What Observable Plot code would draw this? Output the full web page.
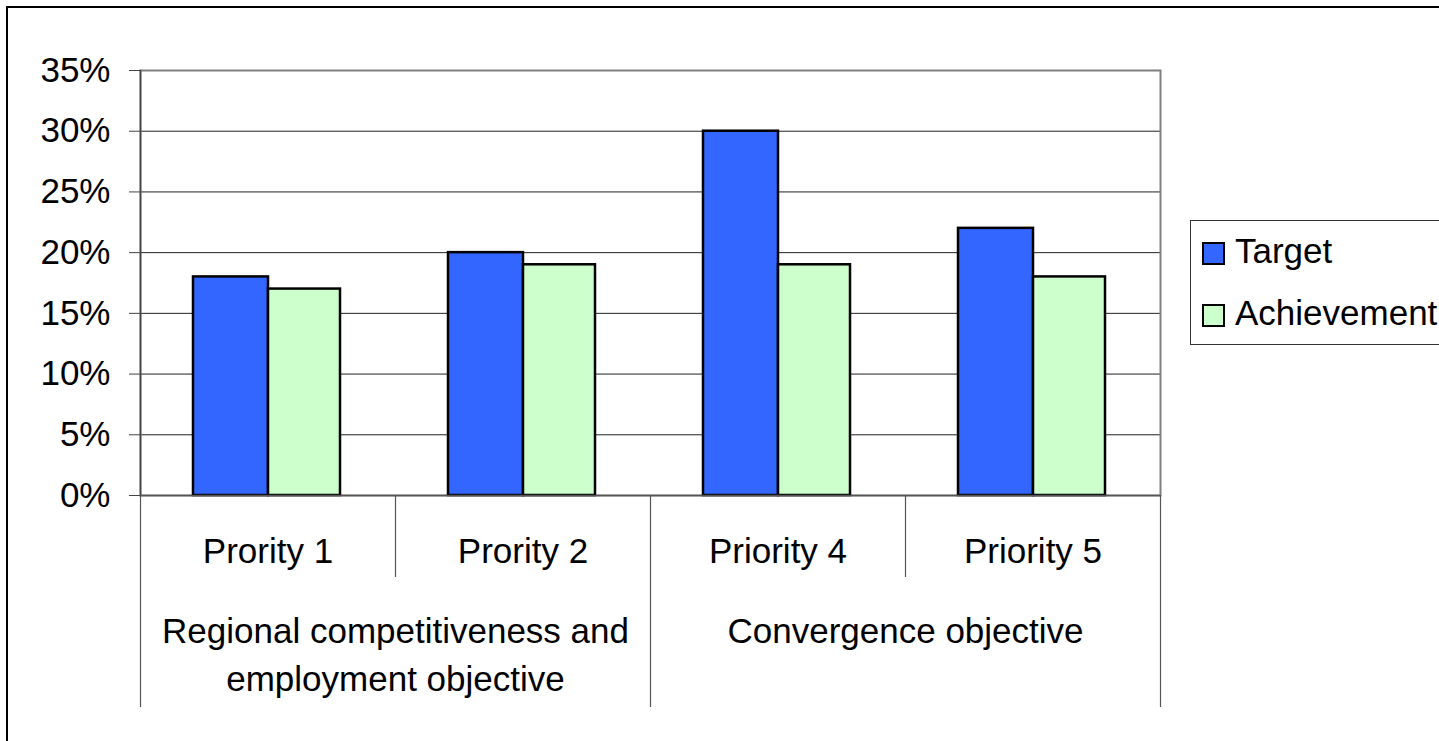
<!DOCTYPE html>
<html><head><meta charset="utf-8">
<script src="https://cdn.jsdelivr.net/npm/d3@7"></script>
<script src="https://cdn.jsdelivr.net/npm/@observablehq/plot@0.6"></script>
<style>
html,body{margin:0;padding:0;background:#fff;}
#chart svg{display:block;}
</style>
</head><body><div id="chart"></div>
<script>
// ---- data ----
const priorities = ["Prority 1", "Prority 2", "Priority 4", "Priority 5"];
const groups = ["Regional competitiveness and\nemployment objective", "Convergence objective"];
const groupMembers = [["Prority 1", "Prority 2"], ["Priority 4", "Priority 5"]];
const series = ["Target", "Achievement"];
const targetValues = [0.18, 0.20, 0.30, 0.22];
const achievementValues = [0.17, 0.19, 0.19, 0.18];
const yTicks = [0, 0.05, 0.10, 0.15, 0.20, 0.25, 0.30, 0.35];
const colors = ["#3366FF", "#CCFFCC"];

const data = priorities.map((p, i) => ({priority: p, target: targetValues[i], achievement: achievementValues[i]}));
const groupData = groups.map((g, i) => ({label: g, first: groupMembers[i][0], n: groupMembers[i].length}));

const W = 1439, H = 741, mL = 140, mR = 279, mT = 70, mB = 246;
const step = (W - mL - mR) / priorities.length;
const font = "'Liberation Sans', Arial, Helvetica, sans-serif";

const shortSeps = groupMembers.flatMap(m => m.slice(1));
const longSeps = groupMembers.map(m => m[0]);
const lastPriority = priorities[priorities.length - 1];

const chart = Plot.plot({
  width: W, height: H,
  marginLeft: mL, marginRight: mR, marginTop: mT, marginBottom: mB,
  style: {fontFamily: font, fontSize: "35px", color: "#000", background: "#fff"},
  x: {type: "band", domain: priorities, padding: 0, axis: null},
  y: {domain: [0, 0.35], axis: null},
  marks: [
    Plot.gridY(yTicks, {stroke: "#222", strokeOpacity: 1, strokeWidth: 1}),
    Plot.frame({stroke: "#808080", strokeWidth: 2}),
    Plot.frame({anchor: "left", stroke: "#444", strokeWidth: 1.5}),
    Plot.axisY(yTicks, {tickFormat: d3.format(".0%"), tickSize: 11, tickPadding: 19, fontSize: 35, stroke: "#444", label: null}),
    Plot.barY(data, {x: "priority", y: "target", fill: colors[0], stroke: "#000", strokeWidth: 2.5, insetLeft: 53, insetRight: 127}),
    Plot.barY(data, {x: "priority", y: "achievement", fill: colors[1], stroke: "#000", strokeWidth: 2.5, insetLeft: 128, insetRight: 55}),
    Plot.ruleY([0], {stroke: "#555", strokeWidth: 1.5}),
    Plot.ruleX(shortSeps, {x: d => d, y1: 0, y2: 0, dx: -step / 2, insetBottom: -82, stroke: "#555", strokeWidth: 1.2}),
    Plot.ruleX(longSeps, {x: d => d, y1: 0, y2: 0, dx: -step / 2, insetBottom: -212, stroke: "#555", strokeWidth: 1.2}),
    Plot.ruleX([lastPriority], {x: d => d, y1: 0, y2: 0, dx: step / 2, insetBottom: -212, stroke: "#555", strokeWidth: 1.2}),
    Plot.text(priorities, {x: d => d, frameAnchor: "bottom", lineAnchor: "bottom", dy: 67, fontSize: 35, fill: "#000"}),
    Plot.text(groupData, {x: "first", text: "label", dx: step * (groupMembers[0].length - 1) / 2, frameAnchor: "bottom", lineAnchor: "top", lineHeight: 48 / 35, dy: 113, fontSize: 35, fill: "#000"})
  ]
});

document.getElementById("chart").appendChild(chart);

// outer chart-area border and legend
const svg = d3.select(chart);
svg.append("path")
  .attr("d", `M7,${H}V7H${W}`)
  .attr("fill", "none").attr("stroke", "#000").attr("stroke-width", 2);

const lg = svg.append("g").attr("font-family", font).attr("font-size", 35).attr("text-anchor", "start");
lg.append("rect").attr("x", 1190.5).attr("y", 220.5).attr("width", 260).attr("height", 124)
  .attr("fill", "#fff").attr("stroke", "#333").attr("stroke-width", 1);
series.forEach((s, i) => {
  const y0 = 243 + i * 62;
  lg.append("rect").attr("x", 1203).attr("y", y0).attr("width", 21).attr("height", 21)
    .attr("fill", colors[i]).attr("stroke", "#000").attr("stroke-width", 2);
  lg.append("text").attr("x", 1235).attr("y", y0 + 20).attr("text-anchor", "start").attr("fill", "#000").text(s);
});
</script>
</body></html>
